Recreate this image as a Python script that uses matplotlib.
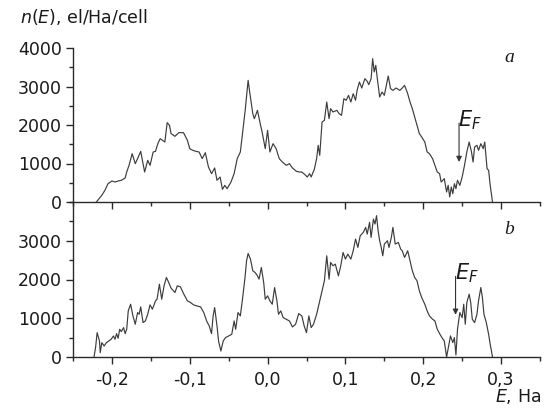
import numpy as np
import matplotlib
matplotlib.use("Agg")
import matplotlib.pyplot as plt
from matplotlib.ticker import MultipleLocator, FuncFormatter

# DOS, panel a
e_a = [-0.220, -0.213, -0.209, -0.205, -0.200, -0.196, -0.192, -0.188, -0.183, -0.181,
       -0.178, -0.174, -0.170, -0.167, -0.163, -0.158, -0.154, -0.151, -0.147, -0.144,
       -0.141, -0.138, -0.135, -0.132, -0.129, -0.126, -0.124, -0.119, -0.114, -0.108,
       -0.103, -0.100, -0.096, -0.092, -0.088, -0.084, -0.080, -0.076, -0.072, -0.068,
       -0.065, -0.061, -0.058, -0.055, -0.052, -0.047, -0.043, -0.039, -0.035, -0.032,
       -0.029, -0.025, -0.023, -0.019, -0.017, -0.013, -0.009, -0.007, -0.003, 0.000,
       0.003, 0.007, 0.011, 0.015, 0.019, 0.024, 0.028, 0.032, 0.037, 0.041,
       0.044, 0.048, 0.051, 0.054, 0.056, 0.060, 0.063, 0.065, 0.067, 0.070,
       0.073, 0.076, 0.079, 0.081, 0.084, 0.089, 0.092, 0.095, 0.098, 0.101,
       0.104, 0.107, 0.110, 0.113, 0.115, 0.118, 0.121, 0.125, 0.128, 0.130,
       0.133, 0.135, 0.137, 0.139, 0.141, 0.144, 0.147, 0.150, 0.155, 0.158,
       0.161, 0.165, 0.170, 0.173, 0.176, 0.180, 0.183, 0.186, 0.189, 0.192,
       0.195, 0.198, 0.202, 0.205, 0.208, 0.212, 0.215, 0.218, 0.221, 0.223,
       0.227, 0.230, 0.232, 0.234, 0.236, 0.238, 0.240, 0.242, 0.244, 0.247,
       0.250, 0.253, 0.256, 0.259, 0.262, 0.264, 0.266, 0.269, 0.271, 0.274,
       0.277, 0.279, 0.282, 0.284, 0.286, 0.289]
n_a = [0, 173, 303, 476, 545, 520, 545, 563, 623, 779,
       952, 1255, 996, 1126, 1316, 779, 1082, 952, 1299, 1316,
       1515, 1645, 1602, 1558, 2060, 1991, 1775, 1706, 1801, 1801,
       1602, 1385, 1342, 1316, 1299, 1126, 1281, 909, 736, 883,
       563, 649, 329, 433, 346, 519, 736, 1126, 1299, 1818,
       2338, 3160, 2857, 2294, 2165, 2381, 1991, 1818, 1385, 1861,
       1299, 1515, 1385, 1126, 1039, 952, 996, 883, 797, 779,
       779, 710, 649, 736, 649, 848, 1126, 1472, 1212, 2078,
       2121, 2597, 2165, 2424, 2338, 2381, 2294, 2251, 2684, 2641,
       2771, 2597, 2814, 2641, 2900, 3117, 2961, 3203, 3134, 3048,
       3203, 3723, 3377, 3550, 3203, 2727, 2857, 2771, 3273, 2944,
       2900, 2961, 2900, 2961, 3030, 2814, 2597, 2424, 2208, 1991,
       1775, 1688, 1558, 1299, 1255, 1126, 952, 779, 736, 519,
       606, 260, 433, 130, 390, 216, 476, 346, 563, 433,
       649, 952, 1299, 1558, 1299, 1039, 1429, 1472, 1342, 1515,
       1385, 1558, 866, 823, 433, 0]

# DOS, panel b
e_b = [-0.223, -0.221, -0.219, -0.216, -0.215, -0.213, -0.210, -0.207, -0.204, -0.201,
       -0.198, -0.196, -0.194, -0.192, -0.190, -0.188, -0.185, -0.183, -0.181, -0.179,
       -0.176, -0.173, -0.170, -0.167, -0.165, -0.163, -0.160, -0.157, -0.154, -0.151,
       -0.148, -0.144, -0.142, -0.139, -0.136, -0.133, -0.130, -0.127, -0.124, -0.119,
       -0.116, -0.112, -0.108, -0.103, -0.099, -0.095, -0.091, -0.086, -0.082, -0.078,
       -0.075, -0.072, -0.070, -0.068, -0.065, -0.063, -0.060, -0.057, -0.054, -0.050,
       -0.046, -0.043, -0.041, -0.038, -0.035, -0.032, -0.029, -0.027, -0.025, -0.022,
       -0.019, -0.016, -0.013, -0.011, -0.008, -0.005, -0.003, 0.000, 0.003, 0.006,
       0.009, 0.012, 0.014, 0.017, 0.020, 0.024, 0.028, 0.032, 0.036, 0.040,
       0.044, 0.047, 0.050, 0.053, 0.056, 0.059, 0.063, 0.067, 0.070, 0.073,
       0.076, 0.079, 0.081, 0.084, 0.087, 0.091, 0.094, 0.097, 0.100, 0.103,
       0.107, 0.110, 0.113, 0.116, 0.119, 0.123, 0.126, 0.128, 0.131, 0.133,
       0.136, 0.138, 0.140, 0.142, 0.144, 0.146, 0.148, 0.150, 0.154, 0.156,
       0.159, 0.161, 0.164, 0.168, 0.171, 0.173, 0.176, 0.180, 0.183, 0.186,
       0.189, 0.192, 0.195, 0.198, 0.202, 0.205, 0.208, 0.212, 0.215, 0.218,
       0.221, 0.224, 0.227, 0.230, 0.233, 0.235, 0.238, 0.240, 0.242, 0.244,
       0.247, 0.250, 0.252, 0.254, 0.256, 0.259, 0.261, 0.263, 0.266, 0.269,
       0.271, 0.274, 0.276, 0.278, 0.281, 0.284, 0.286, 0.289]
n_b = [0, 241, 629, 414, 112, 371, 284, 371, 414, 457,
       543, 457, 603, 483, 716, 655, 759, 603, 716, 1190,
       1362, 1060, 845, 1147, 1103, 1293, 888, 931, 1103, 1345,
       1233, 1448, 1491, 1879, 1491, 1836, 2052, 1922, 1776, 1664,
       1836, 1810, 1638, 1448, 1405, 1345, 1319, 1293, 1147, 914,
       802, 603, 1060, 1276, 802, 414, 155, 414, 500, 543,
       586, 931, 716, 1147, 1060, 1534, 2052, 2483, 2672, 2526,
       2224, 2181, 2095, 2009, 2310, 1922, 1491, 1578, 1448, 1362,
       1793, 1448, 1103, 1190, 1017, 974, 931, 776, 845, 1121,
       1060, 802, 629, 1060, 759, 845, 1103, 1448, 1707, 1966,
       2612, 2009, 2440, 2353, 2397, 2095, 2353, 2698, 2526, 2655,
       2526, 2741, 3043, 2828, 3129, 3216, 3345, 3172, 3474, 3086,
       3560, 3431, 3647, 3259, 3000, 2828, 2612, 2914, 3000, 2828,
       3086, 3345, 2914, 2957, 2784, 2741, 2569, 2741, 2483, 2224,
       2052, 1966, 1707, 1534, 1362, 1190, 1060, 974, 931, 716,
       603, 500, 414, 0, 328, 543, 371, 500, 52, 716,
       1147, 1017, 1362, 845, 1405, 1621, 1405, 974, 888, 1103,
       1448, 1793, 1534, 1103, 888, 586, 328, 0]

x_ticks = [-0.2, -0.1, 0.0, 0.1, 0.2, 0.3]
ef_a = (0.246, 2050, 1040)   # arrow x, arrow start, arrow tip
ef_b = (0.2415, 2080, 1090)

plt.rcParams['font.family'] = ['DejaVu Sans']
plt.rcParams['mathtext.fontset'] = 'dejavusans'
col = '#2a2a2a'

fig = plt.figure(figsize=(5.54, 4.12), dpi=100)
ax1 = fig.add_axes([73/554, 1-202/412, 467/554, 154/412])
ax2 = fig.add_axes([73/554, 1-357/412, 467/554, 155/412])

for ax, e, n in ((ax1, e_a, n_a), (ax2, e_b, n_b)):
    ax.plot(e, n, color='#3c3c3c', lw=0.85)
    ax.set_xlim(-0.25, 0.35)
    ax.set_ylim(0, 4000)
    ax.patch.set_alpha(0)
    for s in ('top', 'right'):
        ax.spines[s].set_visible(False)
    for s in ('left', 'bottom'):
        ax.spines[s].set_color(col)
        ax.spines[s].set_linewidth(1.0)
    ax.xaxis.set_major_locator(MultipleLocator(0.1))
    ax.xaxis.set_minor_locator(MultipleLocator(0.05))
    ax.yaxis.set_major_locator(MultipleLocator(1000))
    ax.yaxis.set_minor_locator(MultipleLocator(500))
    ax.tick_params(which='major', direction='out', length=5, width=1.0, color=col,
                   labelsize=12.5, labelcolor='#1a1a1a')
    ax.tick_params(which='minor', direction='out', length=3, width=1.0, color=col)
    ax.tick_params(axis='y', pad=3)
    ax.tick_params(axis='x', pad=5)

ax1.tick_params(axis='x', labelbottom=False)
ax1.set_yticks([0, 1000, 2000, 3000, 4000])
ax2.set_yticks([0, 1000, 2000, 3000])
ax2.set_xticks(x_ticks)
ax2.xaxis.set_major_formatter(FuncFormatter(lambda v, p: f"{v:.1f}".replace('.', ',').replace('-0,0', '0,0')))

# E_F markers
for ax, (x, y0, y1) in ((ax1, ef_a), (ax2, ef_b)):
    ax.annotate('', xy=(x, y1), xytext=(x, y0),
                arrowprops=dict(arrowstyle='-|>', color='#333333', lw=0.8,
                                mutation_scale=8, shrinkA=0, shrinkB=0))
    ax.text(x - 0.001, y0 - 90, r'$E_F$', fontsize=15, color='#1a1a1a',
            ha='left', va='baseline')

ax1.text(0.935, 0.94, 'a', transform=ax1.transAxes, fontsize=14, style='italic',
         family='Liberation Serif', ha='center', va='center', color='#1a1a1a')
ax2.text(0.935, 0.82, 'b', transform=ax2.transAxes, fontsize=14, style='italic',
         family='Liberation Serif', ha='center', va='center', color='#1a1a1a')

fig.text(20/554, 1-17/412, r'$n$($E$), el/Ha/cell', fontsize=12.5,
         ha='left', va='center', color='#1a1a1a')
fig.text(541/554, 1-396/412, r'$E$, Ha', fontsize=12.5,
         ha='right', va='center', color='#1a1a1a')

fig.savefig('out.png', dpi=100)
